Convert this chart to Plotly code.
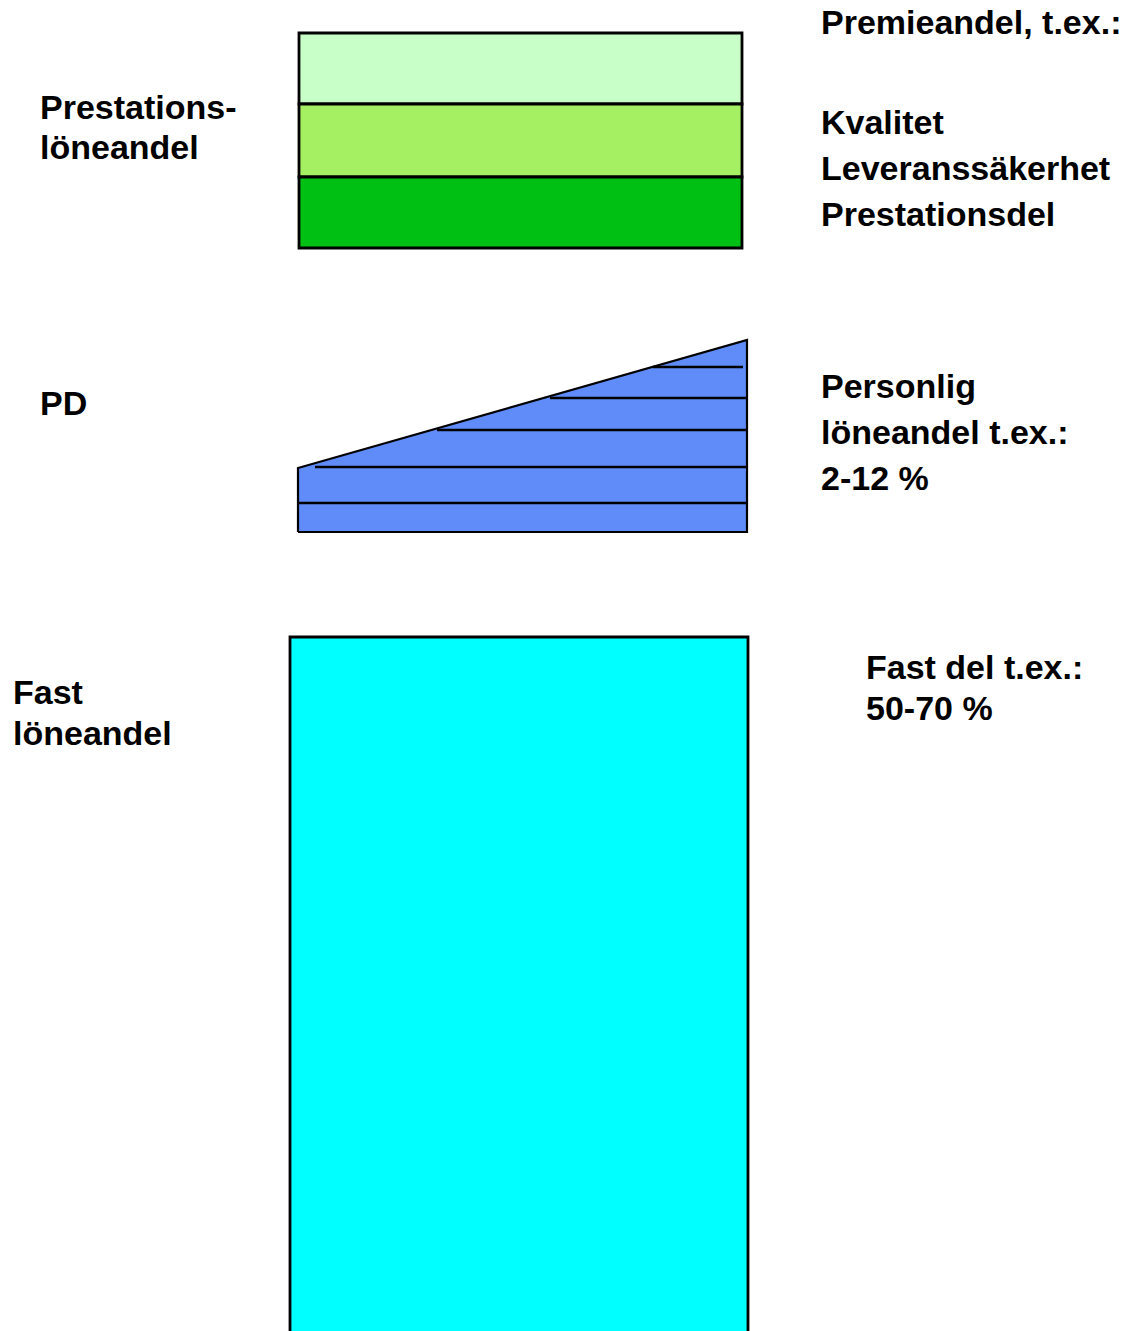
import plotly.graph_objects as go

# ---- data (diagram units: x 0..1131 wide, y 0..1331 downward) ----
premie_names = ["Kvalitet-del", "Leveranssäkerhet-del", "Prestationsdel"]
premie_tops = [33, 104, 177]
premie_heights = [71, 73, 71]
premie_colors = ["#C8FFC8", "#A5F062", "#00C014"]

pd_outline_x = [298, 298, 747, 747]
pd_outline_y = [532, 468, 340, 532]
pd_level_y = [503, 467, 430, 398, 367]
pd_level_x0 = [298, 315, 437, 550, 653]
pd_level_x1 = [747, 747, 747, 747, 743]

fast_top = [637]
fast_height = [760]

left_labels = ["Prestations-", "löneandel", "PD", "Fast", "löneandel"]
left_x = [38, 38, 38, 11, 11]
left_y = [107, 147, 403, 692, 733]

right_labels = ["Premieandel, t.ex.:", "Kvalitet", "Leveranssäkerhet", "Prestationsdel",
                "Personlig", "löneandel t.ex.:", "2-12 %", "Fast del t.ex.:", "50-70 %"]
right_x = [819, 819, 819, 819, 819, 819, 819, 864, 864]
right_y = [22, 122, 168, 214, 386, 432, 478, 667, 708]

FONT = dict(family="Liberation Sans, Arial, sans-serif", size=34, color="black")

fig = go.Figure()

# premium layers (stacked bars)
for name, top, h, c in zip(premie_names, premie_tops, premie_heights, premie_colors):
    fig.add_trace(go.Bar(x=[520.5], y=[h], base=[top], width=[443], name=name,
                         marker=dict(color=c, line=dict(color="black", width=2.8)),
                         hoverinfo="skip"))

# fixed part
fig.add_trace(go.Bar(x=[519], y=fast_height, base=fast_top, width=[458], name="Fast del",
                     marker=dict(color="#00FFFF", line=dict(color="black", width=2.8)),
                     hoverinfo="skip"))

# PD wedge
fig.add_trace(go.Scatter(x=pd_outline_x + [pd_outline_x[0]], y=pd_outline_y + [pd_outline_y[0]],
                         mode="lines", fill="toself", fillcolor="#5F8CF8",
                         line=dict(color="black", width=2.2), hoverinfo="skip"))
for y, x0, x1 in zip(pd_level_y, pd_level_x0, pd_level_x1):
    fig.add_trace(go.Scatter(x=[x0, x1], y=[y, y], mode="lines",
                             line=dict(color="black", width=2.5), hoverinfo="skip"))

for t, x, y in zip(left_labels + right_labels, left_x + right_x, left_y + right_y):
    fig.add_annotation(x=x, y=y, text="<b>" + t + "</b>", showarrow=False,
                       xanchor="left", yanchor="middle", font=FONT, xref="x", yref="y")

fig.update_layout(
    width=1131, height=1331, margin=dict(l=0, r=0, t=0, b=0),
    paper_bgcolor="white", plot_bgcolor="white", showlegend=False,
    barmode="overlay",
    xaxis=dict(range=[0, 1131], visible=False, fixedrange=True),
    yaxis=dict(range=[1331, 0], visible=False, fixedrange=True),
)

fig.write_html("out.html", config={"displayModeBar": False},
               post_script="document.body.style.margin='0';document.body.style.overflow='hidden';")
